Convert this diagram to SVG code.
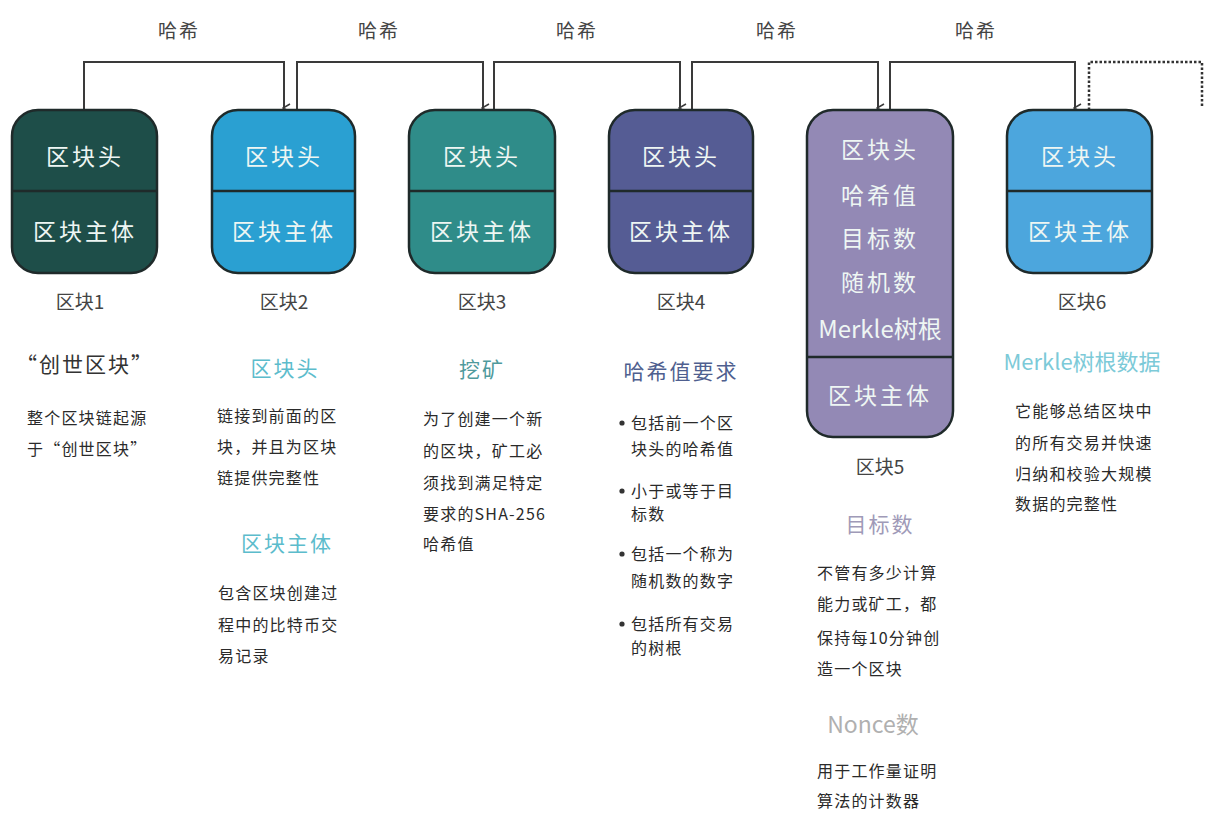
<svg xmlns="http://www.w3.org/2000/svg" width="1208" height="813" viewBox="0 0 1208 813">
<defs>
<marker id="arr" markerWidth="10" markerHeight="10" refX="5" refY="8" orient="auto" markerUnits="userSpaceOnUse" viewBox="0 0 10 10">
<path d="M1,2 L5,9 L9,2" fill="none" stroke="#3a3a3a" stroke-width="1.6"/>
</marker>
<style>
text{font-family:"Noto Sans CJK SC","Noto Sans",sans-serif;}
.blk{stroke:#1f2a2a;stroke-width:2.5;}
.div{stroke:#1f2a2a;stroke-width:2.5;}
.bt{fill:#eef6f3;font-size:23px;letter-spacing:3px;text-anchor:middle;dominant-baseline:central;}
.lbl{fill:#444;font-size:19px;text-anchor:middle;dominant-baseline:central;}
.hash{fill:#444;font-size:19px;text-anchor:middle;dominant-baseline:central;letter-spacing:2px;}
.con{fill:none;stroke:#3a3a3a;stroke-width:2;}
.body{fill:#2a2a2a;font-size:16px;letter-spacing:1.2px;dominant-baseline:central;}
.hd{font-size:21px;text-anchor:middle;dominant-baseline:central;letter-spacing:2px;}
</style>
</defs>
<rect width="1208" height="813" fill="#ffffff"/>

<g id="connectors">
<path class="con" d="M84,110 V62 H284 V108" marker-end="url(#arr)"/>
<path class="con" d="M297,110 V62 H483 V108" marker-end="url(#arr)"/>
<path class="con" d="M494,110 V62 H680 V108" marker-end="url(#arr)"/>
<path class="con" d="M692,110 V62 H878 V108" marker-end="url(#arr)"/>
<path class="con" d="M890,110 V62 H1075 V108" marker-end="url(#arr)"/>
<path d="M1089,110 V62 H1202 V106" fill="none" stroke="#333" stroke-width="2.5" stroke-dasharray="2.5,2"/>
<text class="hash" x="179" y="29">哈希</text>
<text class="hash" x="379" y="29">哈希</text>
<text class="hash" x="577" y="29">哈希</text>
<text class="hash" x="777" y="29">哈希</text>
<text class="hash" x="976" y="29">哈希</text>
</g>

<g id="block1">
<rect class="blk" x="12" y="110" width="145" height="163" rx="26" fill="#1e4e49"/>
<line class="div" x1="12" y1="191" x2="157" y2="191"/>
<text class="bt" x="85" y="155">区块头</text>
<text class="bt" x="85" y="230">区块主体</text>
<text class="lbl" x="80" y="300">区块1</text>
</g>

<g id="block2">
<rect class="blk" x="212" y="110" width="143" height="163" rx="26" fill="#2aa0d2"/>
<line class="div" x1="212" y1="191" x2="355" y2="191"/>
<text class="bt" x="284" y="155">区块头</text>
<text class="bt" x="284" y="230">区块主体</text>
<text class="lbl" x="284" y="300">区块2</text>
</g>

<g id="block3">
<rect class="blk" x="409" y="110" width="146" height="163" rx="26" fill="#2f8c89"/>
<line class="div" x1="409" y1="191" x2="555" y2="191"/>
<text class="bt" x="482" y="155">区块头</text>
<text class="bt" x="482" y="230">区块主体</text>
<text class="lbl" x="482" y="300">区块3</text>
</g>

<g id="block4">
<rect class="blk" x="609" y="110" width="144" height="163" rx="26" fill="#555c94"/>
<line class="div" x1="609" y1="191" x2="753" y2="191"/>
<text class="bt" x="681" y="155">区块头</text>
<text class="bt" x="681" y="230">区块主体</text>
<text class="lbl" x="681" y="300">区块4</text>
</g>

<g id="block5">
<rect class="blk" x="807" y="110" width="146" height="327" rx="26" fill="#9389b5"/>
<line class="div" x1="807" y1="357" x2="953" y2="357"/>
<text class="bt" x="880" y="148">区块头</text>
<text class="bt" x="880" y="194">哈希值</text>
<text class="bt" x="880" y="237">目标数</text>
<text class="bt" x="880" y="281">随机数</text>
<text class="bt" x="880" y="327" style="letter-spacing:0;font-size:24px">Merkle树根</text>
<text class="bt" x="880" y="394">区块主体</text>
<text class="lbl" x="880" y="465">区块5</text>
</g>

<g id="block6">
<rect class="blk" x="1007" y="110" width="145" height="163" rx="26" fill="#4ca6dd"/>
<line class="div" x1="1007" y1="191" x2="1152" y2="191"/>
<text class="bt" x="1080" y="155">区块头</text>
<text class="bt" x="1080" y="230">区块主体</text>
<text class="lbl" x="1082" y="300">区块6</text>
</g>

<g id="note1">
<text class="hd" x="85" y="363" fill="#333">“创世区块”</text>
<text class="body" x="27" y="417">整个区块链起源</text>
<text class="body" x="27" y="448">于“创世区块”</text>
</g>

<g id="note2">
<text class="hd" x="285" y="367" fill="#5cbccc">区块头</text>
<text class="body" x="217" y="415">链接到前面的区</text>
<text class="body" x="217" y="446">块，并且为区块</text>
<text class="body" x="217" y="477">链提供完整性</text>
<text class="hd" x="287" y="542" fill="#5cbccc">区块主体</text>
<text class="body" x="218" y="592">包含区块创建过</text>
<text class="body" x="218" y="624">程中的比特币交</text>
<text class="body" x="218" y="655">易记录</text>
</g>

<g id="note3">
<text class="hd" x="482" y="368" fill="#4f9a9c">挖矿</text>
<text class="body" x="423" y="418">为了创建一个新</text>
<text class="body" x="423" y="450">的区块，矿工必</text>
<text class="body" x="423" y="482">须找到满足特定</text>
<text class="body" x="423" y="513">要求的SHA-256</text>
<text class="body" x="423" y="543">哈希值</text>
</g>

<g id="note4">
<text class="hd" x="681" y="370" fill="#4f5f8f">哈希值要求</text>
<circle cx="622" cy="423" r="2.6" fill="#333"/>
<text class="body" x="631" y="422">包括前一个区</text>
<text class="body" x="631" y="448">块头的哈希值</text>
<circle cx="622" cy="491" r="2.6" fill="#333"/>
<text class="body" x="631" y="490">小于或等于目</text>
<text class="body" x="631" y="513">标数</text>
<circle cx="622" cy="554" r="2.6" fill="#333"/>
<text class="body" x="631" y="553">包括一个称为</text>
<text class="body" x="631" y="580">随机数的数字</text>
<circle cx="622" cy="624" r="2.6" fill="#333"/>
<text class="body" x="631" y="623">包括所有交易</text>
<text class="body" x="631" y="647">的树根</text>
</g>

<g id="note5">
<text class="hd" x="880" y="523" fill="#a09ab8">目标数</text>
<text class="body" x="817" y="572">不管有多少计算</text>
<text class="body" x="817" y="603">能力或矿工，都</text>
<text class="body" x="817" y="637">保持每10分钟创</text>
<text class="body" x="817" y="668">造一个区块</text>
<text class="hd" x="873" y="723" fill="#b0b0b0" style="letter-spacing:0;font-size:23px">Nonce数</text>
<text class="body" x="817" y="770">用于工作量证明</text>
<text class="body" x="817" y="800">算法的计数器</text>
</g>

<g id="note6">
<text class="hd" x="1082" y="360" fill="#7ccad8" style="letter-spacing:0;font-size:22px">Merkle树根数据</text>
<text class="body" x="1015" y="410">它能够总结区块中</text>
<text class="body" x="1015" y="442">的所有交易并快速</text>
<text class="body" x="1015" y="473">归纳和校验大规模</text>
<text class="body" x="1015" y="503">数据的完整性</text>
</g>
</svg>
